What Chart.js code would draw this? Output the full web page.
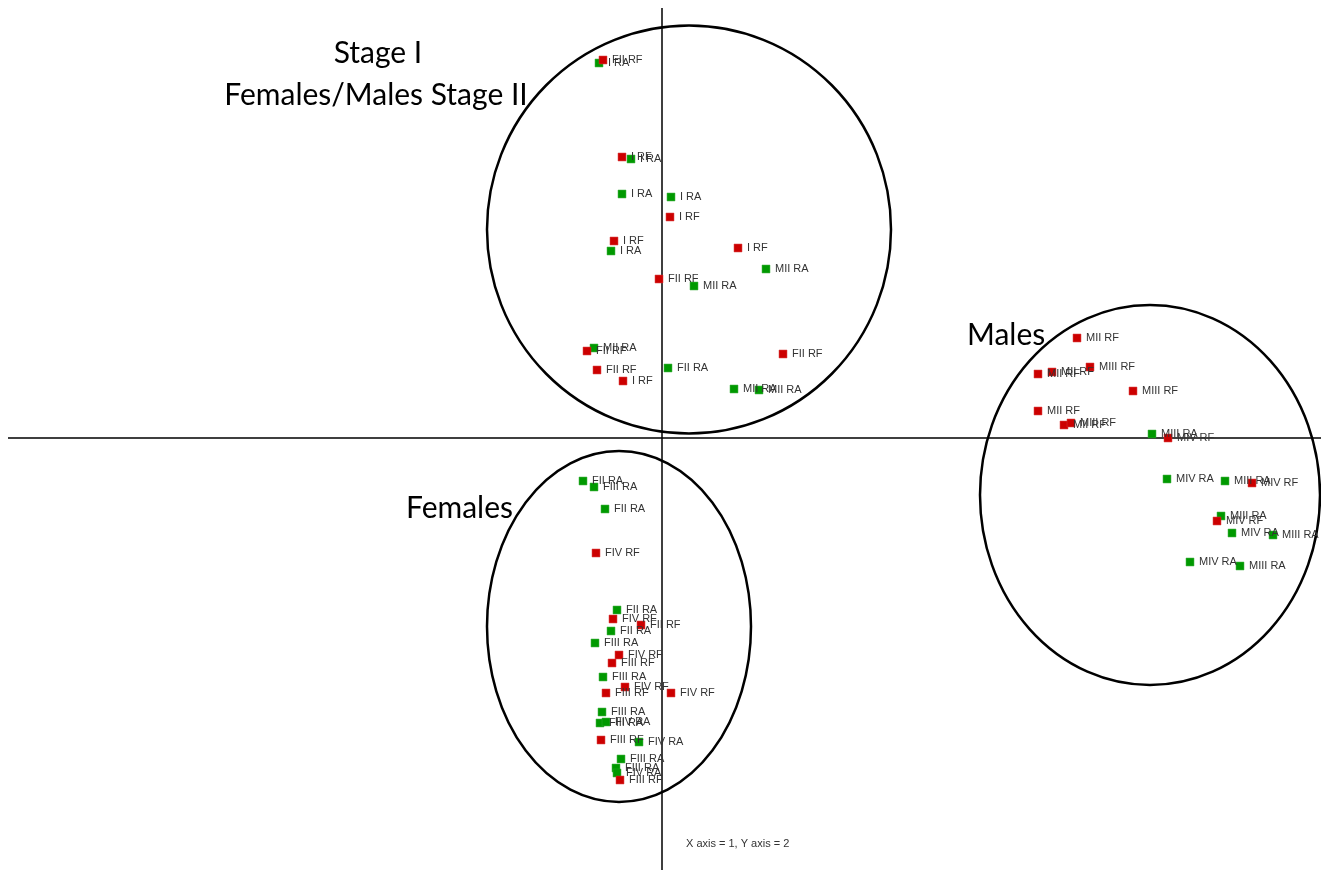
<!DOCTYPE html>
<html>
<head>
<meta charset="utf-8">
<script src="https://cdn.jsdelivr.net/npm/chart.js@4.4.0/dist/chart.umd.min.js"></script>
<style>
  html, body { margin: 0; padding: 0; background: #fff; }
  #wrap { width: 1321px; height: 870px; }
</style>
</head>
<body>
<div id="wrap"><canvas id="myChart" width="1321" height="870"></canvas></div>
<script>
// Puntuaciones eje 1 / eje 2 — muestras RF (rojo)
const rfX = [-0.59, -0.40, 0.08, -0.48, 0.76, -0.03, -0.75, 1.21, -0.65, -0.39,
             4.15, 4.28, 3.76, 3.90, 4.71, 3.76, 4.02, 4.09, 5.06, 5.90, 5.55,
             -0.66, -0.49, -0.21, -0.43, -0.50, -0.37, -0.56, 0.09, -0.61, -0.42];
const rfY = [3.78, 2.81, 2.21, 1.97, 1.90, 1.59, 0.87, 0.84, 0.68, 0.57,
             1.00, 0.71, 0.64, 0.66, 0.47, 0.27, 0.13, 0.15, 0.00, -0.45, -0.83,
             -1.15, -1.81, -1.87, -2.17, -2.25, -2.49, -2.55, -2.55, -3.02, -3.42];
const rfLabels = ['FII RF', 'I RF', 'I RF', 'I RF', 'I RF', 'FII RF', 'FII RF', 'FII RF', 'FII RF', 'I RF',
                  'MII RF', 'MIII RF', 'MII RF', 'MII RF', 'MIII RF', 'MII RF', 'MII RF', 'MIII RF', 'MIV RF', 'MIV RF', 'MIV RF',
                  'FIV RF', 'FIV RF', 'FII RF', 'FIV RF', 'FIII RF', 'FIV RF', 'FIII RF', 'FIV RF', 'FIII RF', 'FIII RF'];

// Muestras RA (verde)
const raX = [-0.63, -0.31, -0.40, 0.09, -0.51, 1.04, 0.32, -0.68, 0.06, 0.72, 0.97,
             4.90, 5.05, 5.63, 5.59, 5.70, 6.11, 5.28, 5.78,
             -0.79, -0.68, -0.57, -0.45, -0.51, -0.67, -0.59, -0.60, -0.62, -0.56, -0.23, -0.41, -0.46, -0.45];
const raY = [3.75, 2.79, 2.44, 2.41, 1.87, 1.69, 1.52, 0.90, 0.70, 0.49, 0.48,
             0.04, -0.41, -0.43, -0.78, -0.95, -0.97, -1.24, -1.28,
             -0.43, -0.49, -0.71, -1.72, -1.93, -2.05, -2.39, -2.74, -2.85, -2.84, -3.04, -3.21, -3.30, -3.35];
const raLabels = ['I RA', 'I RA', 'I RA', 'I RA', 'I RA', 'MII RA', 'MII RA', 'MII RA', 'FII RA', 'MII RA', 'MII RA',
                  'MIII RA', 'MIV RA', 'MIII RA', 'MIII RA', 'MIV RA', 'MIII RA', 'MIV RA', 'MIII RA',
                  'FII RA', 'FIII RA', 'FII RA', 'FII RA', 'FII RA', 'FIII RA', 'FIII RA', 'FIII RA', 'FIII RA', 'FIV RA', 'FIV RA', 'FIII RA', 'FIII RA', 'FIV RA'];

// Grupos (elipses): centro y radios en unidades de los ejes
const groupNames = ['Stage I', 'Males', 'Females'];
const groupCx = [0.27, 4.88, -0.43];
const groupCy = [2.085, -0.57, -1.885];
const groupRx = [2.02, 1.70, 1.32];
const groupRy = [2.04, 1.90, 1.755];

// Rango de los ejes
const xMin = -6.62, xMax = 6.59;
const yMin = -4.32, yMax = 4.38;

const toPoints = (xs, ys) => xs.map((x, i) => ({ x: x, y: ys[i] }));

// Plugin: ejes cruzados, elipses, etiquetas y textos
const overlay = {
    id: 'overlay',
    beforeDatasetsDraw(chart) {
        const c = chart.ctx;
        const sx = chart.scales.x, sy = chart.scales.y;
        c.save();
        c.strokeStyle = '#000';
        // ejes
        c.lineWidth = 1.5;
        c.beginPath();
        c.moveTo(sx.getPixelForValue(0), 8);
        c.lineTo(sx.getPixelForValue(0), chart.height);
        c.moveTo(8, sy.getPixelForValue(0));
        c.lineTo(chart.width, sy.getPixelForValue(0));
        c.stroke();
        // elipses
        c.lineWidth = 2.5;
        for (let i = 0; i < groupCx.length; i++) {
            const px = sx.getPixelForValue(groupCx[i]);
            const py = sy.getPixelForValue(groupCy[i]);
            const rx = Math.abs(sx.getPixelForValue(groupCx[i] + groupRx[i]) - px);
            const ry = Math.abs(sy.getPixelForValue(groupCy[i] + groupRy[i]) - py);
            c.beginPath();
            c.ellipse(px, py, rx, ry, 0, 0, Math.PI * 2);
            c.stroke();
        }
        c.restore();
    },
    afterDatasetsDraw(chart) {
        const c = chart.ctx;
        c.save();
        // etiquetas de cada punto
        c.font = '11px "Liberation Sans", Arial, sans-serif';
        c.fillStyle = '#333';
        c.textBaseline = 'middle';
        c.textAlign = 'left';
        chart.data.datasets.forEach((ds, di) => {
            const meta = chart.getDatasetMeta(di);
            meta.data.forEach((pt, i) => {
                c.fillText(ds.pointLabels[i], pt.x + 9, pt.y);
            });
        });
        // textos de grupos
        c.fillStyle = '#000';
        c.textBaseline = 'alphabetic';
        c.font = '30px Lato, "Open Sans", sans-serif';
        c.textAlign = 'center';
        c.fillText('Stage I', 378, 63);
        c.fillText('Females/Males Stage II', 376, 105);
        c.textAlign = 'left';
        c.fillText('Males', 967, 345);
        c.fillText('Females', 406, 518);
        c.font = '11px "Liberation Sans", Arial, sans-serif';
        c.fillStyle = '#333';
        c.fillText('X axis = 1, Y axis = 2', 686, 847);
        c.restore();
    }
};

const ctx = document.getElementById('myChart').getContext('2d');
const myChart = new Chart(ctx, {
    type: 'scatter',
    data: {
        datasets: [{
            label: 'RF',
            data: toPoints(rfX, rfY),
            pointLabels: rfLabels,
            pointStyle: 'rect',
            pointRadius: 5.6,
            backgroundColor: '#cc0000',
            borderColor: '#d83030',
            borderWidth: 0.5
        }, {
            label: 'RA',
            data: toPoints(raX, raY),
            pointLabels: raLabels,
            pointStyle: 'rect',
            pointRadius: 5.6,
            backgroundColor: '#009900',
            borderColor: '#30aa30',
            borderWidth: 0.5
        }]
    },
    options: {
        responsive: false,
        animation: false,
        layout: { padding: 0, autoPadding: false },
        scales: {
            x: { type: 'linear', min: xMin, max: xMax, display: false },
            y: { type: 'linear', min: yMin, max: yMax, display: false }
        },
        plugins: {
            legend: { display: false },
            tooltip: { enabled: false }
        }
    },
    plugins: [overlay]
});
</script>
</body>
</html>
